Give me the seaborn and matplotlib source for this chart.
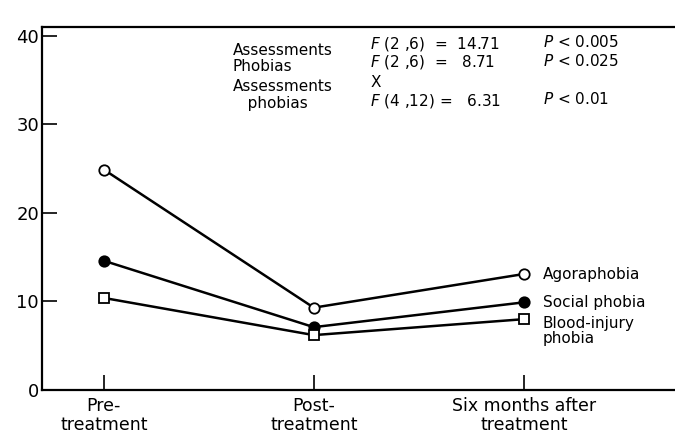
import numpy as np
import pandas as pd
import seaborn as sns
import matplotlib.pyplot as plt

sns.set_style('ticks')
plt.rcParams['font.family'] = ['DejaVu Sans']
plt.rcParams['mathtext.fontset'] = 'dejavusans'
plt.rcParams['text.color'] = 'black'
plt.rcParams['xtick.color'] = 'black'
plt.rcParams['ytick.color'] = 'black'
plt.rcParams['axes.labelcolor'] = 'black'

# data
stages = ['Pre-\ntreatment', 'Post-\ntreatment', 'Six months after\ntreatment']
phobias = ['Agoraphobia', 'Social phobia', 'Blood-injury\nphobia']
agoraphobia = [24.9, 9.3, 13.1]
social = [14.6, 7.1, 9.9]
blood_injury = [10.4, 6.2, 8.0]
yticks = [0, 10, 20, 30, 40]

stats_names = ['Assessments', 'Phobias', 'Assessments', '   phobias']
stats_f = [r'$\it{F}$ (2 ,6)  =  14.71', r'$\it{F}$ (2 ,6)  =   8.71', 'X',
           r'$\it{F}$ (4 ,12) =   6.31']
stats_p = [r'$\it{P}$ < 0.005', r'$\it{P}$ < 0.025', '', r'$\it{P}$ < 0.01']

df = pd.DataFrame({
    'stage': list(range(len(stages))) * 3,
    'score': agoraphobia + social + blood_injury,
    'phobia': np.repeat(phobias, len(stages)),
})

fig = plt.figure(figsize=(6.75, 4.36), dpi=100)
ax = fig.add_axes([0.062, 0.1055, 0.938, 0.8325])

marks = {phobias[0]: ('o', 'white'), phobias[1]: ('o', 'black'), phobias[2]: ('s', 'white')}
for ph in phobias:
    m, fc = marks[ph]
    sns.lineplot(data=df[df.phobia == ph], x='stage', y='score', ax=ax,
                 color='black', lw=1.8, marker=m, markersize=7.5,
                 markerfacecolor=fc, markeredgecolor='black', markeredgewidth=1.3)

# series labels at the right end
last = df[df.stage == len(stages) - 1]
offs = [0, 0, 0.35]
for (ph, val), dy in zip(zip(last.phobia, last.score), offs):
    ax.text(2.09, val + dy, ph, fontsize=11, va='center' if dy == 0 else 'top',
            ha='left', linespacing=1.0)

# anova results
ys_name = [38.3, 36.5, 34.3, 32.4]
ys_f = [39.1, 37.0, 34.7, 32.7]
ys_p = [39.3, 37.2, 0, 32.9]
for t, y in zip(stats_names, ys_name):
    ax.text(0.614, y, t, fontsize=11, va='center')
for t, y in zip(stats_f, ys_f):
    ax.text(1.27, y, t, fontsize=11, va='center')
for t, y in zip(stats_p, ys_p):
    if t:
        ax.text(2.09, y, t, fontsize=11, va='center')

ax.set_xlim(-0.295, 2.72)
ax.set_ylim(0, 41)
ax.set_xticks(range(len(stages)))
ax.set_xticklabels(stages, fontsize=12.5, linespacing=1.05)
ax.set_yticks(yticks)
ax.set_yticklabels([str(v) for v in yticks], fontsize=13)
ax.tick_params(axis='both', direction='in', length=11, width=1.2, colors='black')
ax.tick_params(axis='x', pad=5)
ax.tick_params(axis='y', pad=2)
ax.set_xlabel('')
ax.set_ylabel('')
for s in ['left', 'bottom', 'top']:
    ax.spines[s].set_linewidth(1.6)
    ax.spines[s].set_color('black')
ax.spines['right'].set_visible(False)

fig.savefig('out.png', dpi=100)
